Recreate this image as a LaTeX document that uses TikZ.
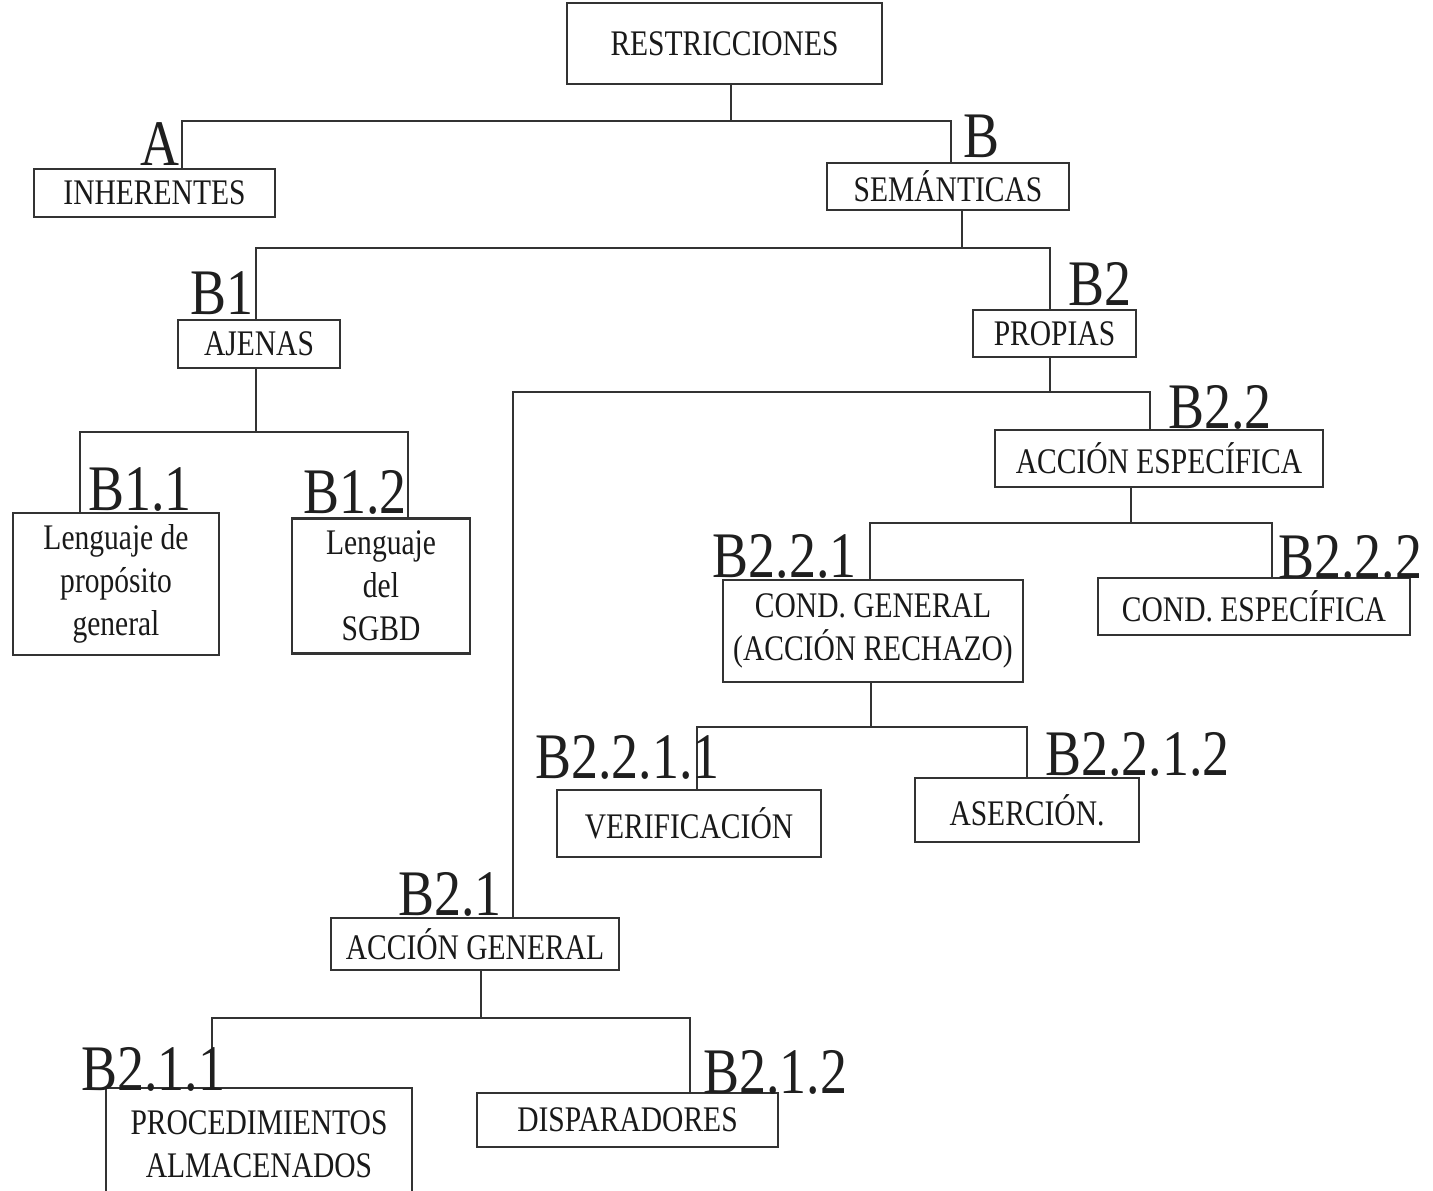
\documentclass[tikz,border=0pt]{standalone}
\usepackage{fontspec}
\setmainfont{Liberation Serif}
\newfontfamily\condfont[FakeStretch=0.82]{Liberation Serif}
\newfontfamily\labfont[FakeStretch=0.83]{Liberation Serif}
\begin{document}
\begin{tikzpicture}[x=0.5pt,y=-0.5pt,
  box/.style={draw=black!80, line width=1.2pt, inner sep=0pt, align=center,
    text=black!90, font=\condfont\fontsize{18}{21.5}\selectfont},
  lab/.style={inner sep=0pt, text=black!88, font=\labfont\fontsize{32.5}{36}\selectfont},
  conn/.style={draw=black!80, line width=1.2pt}]
\clip (0,0) rectangle (1433,1190);
\fill[white] (0,0) rectangle (1433,1190);

% boxes
\node[box, minimum width=157.5pt, minimum height=40.5pt] (R) at (724.5,43.5) {RESTRICCIONES};
\node[box, minimum width=120.5pt, minimum height=24pt] (INH) at (154.5,193) {INHERENTES};
\node[box, minimum width=121pt, minimum height=23.5pt] (SEM) at (948,186.5) {SEMÁNTICAS};
\node[box, minimum width=81pt, minimum height=24pt] (AJ) at (259,344) {AJENAS};
\node[box, minimum width=81.5pt, minimum height=23.5pt] (PR) at (1054.5,333.5) {PROPIAS};
\node[box, minimum width=103pt, minimum height=71pt] (L1) at (116,584) {Lenguaje de\\propósito\\general};
\node[box, minimum width=89pt, minimum height=67.5pt] (L2) at (381,586) {Lenguaje\\del\\SGBD};
\node[box, minimum width=164pt, minimum height=28.5pt] (AE) at (1159,458.5) {ACCIÓN ESPECÍFICA};
\node[box, minimum width=150pt, minimum height=51pt] (CG) at (873,631) {COND. GENERAL\\(ACCIÓN RECHAZO)};
\node[box, minimum width=156pt, minimum height=28.5pt] (CE) at (1254,606.5) {COND. ESPECÍFICA};
\node[box, minimum width=132pt, minimum height=33.5pt] (VE) at (689,823.5) {VERIFICACIÓN};
\node[box, minimum width=112pt, minimum height=32pt] (AS) at (1027,810) {ASERCIÓN.};
\node[box, minimum width=144pt, minimum height=26pt] (AG) at (475,944) {ACCIÓN GENERAL};
\node[box, minimum width=153pt, minimum height=56pt] (PA) at (259,1144) {PROCEDIMIENTOS\\ALMACENADOS};
\node[box, minimum width=150.5pt, minimum height=27pt] (DI) at (627.5,1120) {DISPARADORES};

% junction coordinates
\coordinate (jR) at (731,121);  \coordinate (cA) at (182,121);  \coordinate (cB) at (951,121);
\coordinate (jS) at (962,248);  \coordinate (cB1) at (256,248); \coordinate (cB2) at (1050,248);
\coordinate (jAJ) at (256,432); \coordinate (cB11) at (80,432); \coordinate (cB12) at (408,432);
\coordinate (jPR) at (1050,392); \coordinate (cB21) at (513,392); \coordinate (cB22) at (1150,392);
\coordinate (jAE) at (1131,523); \coordinate (cB221) at (870,523); \coordinate (cB222) at (1272,523);
\coordinate (jCG) at (871,727); \coordinate (cV) at (697,727); \coordinate (cAS) at (1027,727);
\coordinate (jAG) at (481,1018); \coordinate (cPA) at (212,1018); \coordinate (cDI) at (690,1018);

% connectors
\draw[conn] (R.south -| jR) -- (jR);
\draw[conn] (INH.north -| cA) -- (cA) -- (cB) -- (SEM.north -| cB);
\draw[conn] (SEM.south -| jS) -- (jS);
\draw[conn] (AJ.north -| cB1) -- (cB1) -- (cB2) -- (PR.north -| cB2);
\draw[conn] (AJ.south -| jAJ) -- (jAJ);
\draw[conn] (L1.north -| cB11) -- (cB11) -- (cB12) -- (L2.north -| cB12);
\draw[conn] (PR.south -| jPR) -- (jPR);
\draw[conn] (AG.north -| cB21) -- (cB21) -- (cB22) -- (AE.north -| cB22);
\draw[conn] (AE.south -| jAE) -- (jAE);
\draw[conn] (CG.north -| cB221) -- (cB221) -- (cB222) -- (CE.north -| cB222);
\draw[conn] (CG.south -| jCG) -- (jCG);
\draw[conn] (VE.north -| cV) -- (cV) -- (cAS) -- (AS.north -| cAS);
\draw[conn] (AG.south -| jAG) -- (jAG);
\draw[conn] (PA.north -| cPA) -- (cPA) -- (cDI) -- (DI.north -| cDI);

% labels
\node[lab, anchor=base east] (lA) at (180,165) {A};
\node[lab, anchor=base west] (lB) at (963,157) {B};
\node[lab, anchor=base east] (lB1) at (254,314) {B1};
\node[lab, anchor=base west] (lB2) at (1068,305) {B2};
\node[lab, anchor=base west] (lB11) at (88,510) {B1.1};
\node[lab, anchor=base east] (lB12) at (407,513) {B1.2};
\node[lab, anchor=base west] (lB22) at (1168,428) {B2.2};
\node[lab, anchor=base east] (lB221) at (857,577) {B2.2.1};
\node[lab, anchor=base west] (lB222) at (1278,578) {B2.2.2};
\node[lab, anchor=base west] (lB2211) at (535,778) {B2.2.1.1};
\node[lab, anchor=base west] (lB2212) at (1045,775) {B2.2.1.2};
\node[lab, anchor=base east] (lB21) at (502,915) {B2.1};
\node[lab, anchor=base west] (lB211) at (81,1090) {B2.1.1};
\node[lab, anchor=base west] (lB212) at (703,1093) {B2.1.2};
\end{tikzpicture}
\end{document}
